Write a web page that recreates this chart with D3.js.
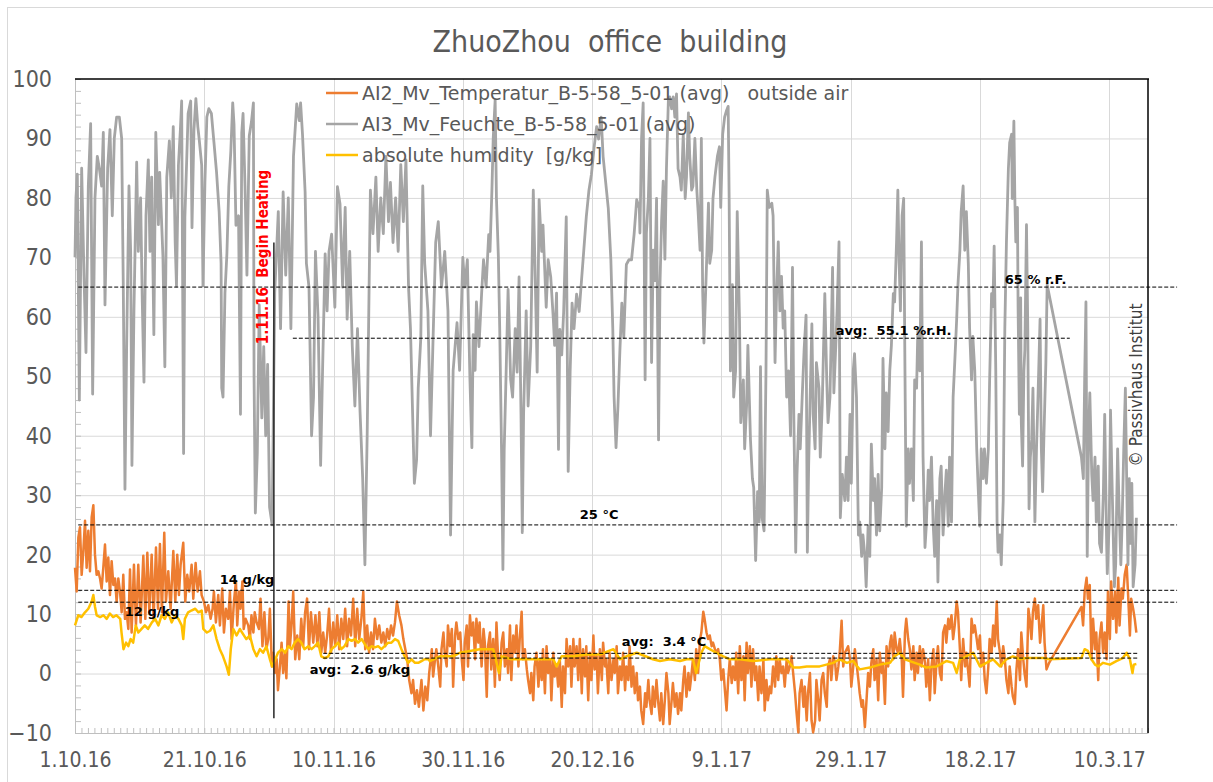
<!DOCTYPE html>
<html>
<head>
<meta charset="utf-8">
<script src="https://cdn.jsdelivr.net/npm/d3@7"></script>
<style>
  body { margin: 0; background: #fff; }
  svg { display: block; }
  svg text { white-space: pre; }
</style>
</head>
<body>
<div id="chart"></div>
<script>
// ---- data ----
const startDate = Date.UTC(2016, 9, 1);
const lastDay = 166;
const xTickDays = [0, 20, 40, 60, 80, 100, 120, 140, 160];
const xTickLabels = ['1.10.16', '21.10.16', '10.11.16', '30.11.16', '20.12.16', '9.1.17', '29.1.17', '18.2.17', '10.3.17'];
const yTicks = [-10, 0, 10, 20, 30, 40, 50, 60, 70, 80, 90, 100];

const seriesNames = [
  'AI2_Mv_Temperatur_B-5-58_5-01 (avg)   outside air',
  'AI3_Mv_Feuchte_B-5-58_5-01 (avg)',
  'absolute humidity  [g/kg]'
];

// outside air temperature [°C], [day since 1.10.16, value]
const tempSeries = [
  [0,17.8],[0.26,13.8],[0.52,22.9],[0.77,24.6],[1.03,16.6],[1.29,20.6],[1.55,25.7],[1.8,17.8],[2.06,24],[2.32,17.2],[2.58,26.3],[2.84,28.3],[3.09,20],[3.35,16.6],[3.61,17.2],[3.87,16],[4.12,14.3],[4.38,17.8],[4.64,21.7],[4.9,15.5],[5.15,19.5],[5.41,13.2],[5.67,18.9],[5.93,14.9],[6.19,16],[6.44,12.1],[6.7,16],[6.96,13.8],[7.22,10.3],[7.47,16.6],[7.73,9.2],[7.99,10.3],[8.25,7.5],[8.51,17.5],[8.76,6.9],[9.12,18.3],[9.43,8.1],[9.79,18.3],[10.15,8.6],[10.57,19.8],[10.88,9.2],[11.19,20.3],[11.5,10.3],[11.86,20],[12.16,9.2],[12.53,21.2],[12.84,10.9],[13.14,21.8],[13.45,10.3],[13.81,23.7],[14.07,12.1],[14.43,17.2],[14.79,10.9],[15.21,20.6],[15.52,12.1],[15.82,20],[16.08,13.2],[16.34,18.3],[16.75,22],[17.06,12.1],[17.37,16.6],[17.68,13.8],[18.04,18.3],[18.3,12.6],[18.66,18.6],[18.97,13.8],[19.33,17.2],[19.59,13.2],[19.95,12.1],[20.26,10.3],[20.62,11.5],[20.98,9.2],[21.29,10.9],[21.49,13.8],[21.8,8.6],[22.16,13.2],[22.42,8.1],[22.78,14.3],[23.04,6.9],[23.35,10.9],[23.71,9.2],[23.97,13.8],[24.23,5.8],[24.59,12.1],[24.9,15.5],[25.1,8.1],[25.4,13.8],[25.6,10.9],[25.9,15.5],[26.1,7.5],[26.4,9.2],[26.8,8.1],[27.06,5.8],[27.3,9.8],[27.6,6.9],[27.8,10.3],[28.1,8.6],[28.45,7.5],[28.7,12.6],[29,4.6],[29.3,10.3],[29.6,4.1],[29.9,5.8],[30.15,10.9],[30.46,1.2],[30.67,3.5],[30.93,0.1],[31.2,2.4],[31.4,-2.8],[31.7,1.2],[31.96,5.2],[32.2,0.1],[32.5,3.5],[32.7,-0.8],[33.04,12.1],[33.25,4.6],[33.5,8.1],[33.76,13.8],[34.07,2.4],[34.38,6.4],[34.7,2.4],[35,9.2],[35.3,4.6],[35.6,10.3],[35.9,12.6],[36.2,4.1],[36.5,10.3],[36.86,5.2],[37.2,9.8],[37.5,4.6],[37.8,10.3],[38.1,3.5],[38.4,6.9],[38.7,3.5],[39,6.4],[39.3,10.9],[39.6,3.5],[39.95,8.6],[40.26,4.6],[40.57,9.8],[40.88,4.1],[41.2,9.2],[41.5,5.8],[41.8,10.9],[42.1,4.6],[42.4,9.2],[42.7,6.4],[43.04,12.6],[43.35,4.6],[43.66,10.9],[43.97,5.8],[44.3,9.2],[44.6,13.8],[44.9,4.1],[45.2,8.1],[45.5,3.5],[45.8,6.9],[46.1,4.1],[46.4,9.2],[46.75,5.8],[47.06,8.1],[47.4,5.2],[47.7,6.9],[48,4.6],[48.3,7.5],[48.6,5.8],[48.9,8.1],[49.2,6.4],[49.5,8.6],[49.8,12.1],[50.15,9.8],[50.5,8.1],[50.8,5.8],[51.1,4.1],[51.4,2.4],[51.7,-1.1],[52.06,-3.3],[52.3,-1.1],[52.6,-5.1],[52.9,-2.8],[53.2,-5.6],[53.6,-1.1],[53.9,-6.2],[54.2,-2.2],[54.5,-4.5],[54.8,0.1],
  [55.2,4.1],[55.4,-0.5],[55.7,2.4],[55.9,4.1],[56.2,1.2],[56.5,-2.2],[56.7,4.1],[57,6.9],[57.2,3.5],[57.5,1.2],[57.7,8.1],[58,4.6],[58.3,7.5],[58.5,-2.2],[58.8,6.4],[59,8.6],[59.3,5.8],[59.6,6.9],[59.8,2.9],[60.1,-1.1],[60.3,5.2],[60.6,8.1],[60.8,1.2],[61.1,9.8],[61.35,6.4],[61.6,8.6],[61.9,2.4],[62.1,9.2],[62.4,5.2],[62.6,8.6],[62.9,1.2],[63.2,7.5],[63.4,5.2],[63.7,-3.9],[63.9,4.6],[64.2,6.9],[64.4,0.7],[64.7,5.8],[64.96,-2.2],[65.2,8.6],[65.5,1.8],[65.7,-1.1],[66,5.2],[66.25,6.9],[66.5,1.2],[66.8,4.1],[67,0.1],[67.3,8.1],[67.5,-1.1],[67.8,6.4],[68.05,3.5],[68.3,8.1],[68.6,1.2],[68.8,5.8],[69.1,10.4],[69.3,2.4],[69.6,4.1],[69.9,0.7],[70.1,-1.1],[70.4,-3.3],[70.6,0.1],[70.9,-4.5],[71.1,1.2],[71.4,3.5],[71.7,-2.2],[71.9,2.4],[72.2,-1.1],[72.4,4.1],[72.7,-3.3],[72.95,4.6],[73.2,0.1],[73.5,2.4],[73.7,-4.5],[74,3.5],[74.2,-0.5],[74.5,1.2],[74.75,-2.2],[75,2.4],[75.3,-5.6],[75.5,1.2],[75.8,-3.3],[76.05,5.8],[76.3,1.2],[76.6,4.6],[76.8,-2.2],[77.1,5.8],[77.3,1.2],[77.6,4.6],[77.85,-1.1],[78.1,5.8],[78.4,-3.3],[78.6,4.1],[78.9,-0.5],[79.1,4.6],[79.4,-4.5],[79.65,3.5],[79.9,-1.1],[80.2,6.4],[80.4,0.7],[80.7,2.9],[80.9,-3.3],[81.2,4.1],[81.5,-1.1],[81.7,5.2],[82,1.2],[82.2,2.4],[82.5,-3.3],[82.7,3.5],[83,-1.1],[83.3,2.4],[83.5,0.1],[83.8,4.6],[84,-3.3],[84.3,1.2],[84.55,-1.1],[84.8,3.5],[85.1,-2.8],[85.3,1.2],[85.6,-1.1],[85.8,4.6],[86.1,-2.2],[86.35,1.2],[86.6,-3.3],[86.9,0.1],[87.1,-4.5],[87.4,-2.2],[87.6,-6.2],[87.9,-8.5],[88.2,-3.3],[88.4,-5.6],[88.7,-1.1],[88.9,-4.5],[89.2,-6.8],[89.4,-2.2],[89.7,-5.6],[89.96,-1.1],[90.2,-4.5],[90.5,-7.9],[90.7,-3.3],[91,-8.5],[91.25,-4.5],[91.5,0.1],[91.8,-3.3],[92,-8.5],[92.3,-4.5],[92.5,-1.6],[92.8,-5.6],[93.05,-3.3],[93.3,-6.8],[93.6,-3.3],[93.8,-6.2],[94.1,-1.1],[94.3,1.2],[94.6,-3.9],[94.9,0.1],[95.1,-2.8],[95.4,0.1],[95.6,2.4],[95.9,-1.1],[96.1,4.1],[96.4,0.1],[96.7,5.8],[96.9,6.9],[97.2,10.4],[97.4,9.2],[97.7,6.9],[97.95,5.8],[98.2,6.4],[98.5,4.6],[98.7,5.2],[99,4.1],[99.2,3.5],[99.5,4.1],[99.75,2.4],[100,-1.1],[100.3,0.7],[100.5,-2.2],[100.8,-6.2],[101.05,-1.1],[101.3,2.4],[101.6,-1.6],[101.8,1.2],[102.1,-1.1],[102.3,3.5],[102.6,-3.3],[102.85,4.6],[103.1,-1.1],[103.4,2.9],[103.6,-4.5],[103.9,5.2],[104.1,0.1],[104.4,4.6],[104.65,-2.2],[104.9,4.1],[105.2,-1.1],[105.4,1.2],[105.7,-4.5],[105.9,1.2],[106.2,-3.3],[106.5,2.4],[106.7,-6.2],[106.97,-1.1],[107.2,-4.5],[107.5,-2.2],[107.7,-3.3],[108,1.2],[108.3,-2.2],[108.5,2.9],[108.8,-1.1],[109,2.4],[109.3,0.1],[109.55,1.2],[109.8,-2.2],[110.1,2.4],[110.3,0.1],
  [110.6,1.2],[110.85,2.9],[111.1,0.1],[111.4,-3.3],[111.6,-6.2],[111.9,-9.9],[112.1,-3.3],[112.4,-1.1],[112.7,-5.6],[112.9,-2.2],[113.2,-7.9],[113.4,-3.3],[113.7,0.1],[113.95,-7.9],[114.2,-9.9],[114.5,-7.9],[114.7,-1.1],[114.98,-4.5],[115.2,-7.9],[115.5,-1.1],[115.75,0.1],[116,-3.3],[116.3,-5.6],[116.5,1.2],[116.8,2.4],[117,-1.1],[117.3,2.9],[117.6,1.8],[117.8,-1.1],[118.1,1.2],[118.3,3.5],[118.6,8.9],[118.85,1.2],[119.1,3.5],[119.4,4.1],[119.6,4.6],[119.9,2.4],[120.1,-2.2],[120.4,1.2],[120.65,4.1],[120.9,1.8],[121.2,-1.1],[121.4,-3.3],[121.7,-5.6],[121.9,-4.5],[122.2,-9],[122.45,-4.5],[122.7,0.1],[122.97,-2.2],[123.2,1.8],[123.5,4.1],[123.7,-1.1],[124,2.4],[124.26,-4.5],[124.5,3.5],[124.8,0.1],[125,1.8],[125.3,-5.1],[125.55,4.6],[125.8,1.2],[126.1,5.2],[126.3,6.4],[126.6,2.4],[126.8,6.9],[127.1,4.1],[127.35,3.5],[127.6,5.8],[127.9,2.4],[128.1,-3.9],[128.4,6.9],[128.6,9.2],[128.9,5.8],[129.15,4.1],[129.4,0.7],[129.7,4.6],[129.9,-1.1],[130.2,3.5],[130.4,0.1],[130.7,4.6],[130.95,1.2],[131.2,4.1],[131.5,1.8],[131.7,-2.2],[131.99,2.4],[132.25,-4.5],[132.5,1.2],[132.8,4.1],[133,-3.3],[133.3,2.4],[133.5,4.6],[133.8,0.1],[134.05,-1.1],[134.3,6.9],[134.6,8.1],[134.8,5.2],[135.1,9.2],[135.3,7.5],[135.6,9.8],[135.85,5.8],[136.1,8.1],[136.4,12.1],[136.6,10.4],[136.9,4.1],[137.1,-1.1],[137.4,5.8],[137.7,1.2],[137.9,3.5],[138.2,0.1],[138.4,-2.2],[138.7,9.2],[138.95,6.9],[139.2,8.1],[139.5,5.8],[139.7,4.1],[140,6.4],[140.2,1.2],[140.5,3.5],[140.75,-1.1],[141,-3.3],[141.3,1.2],[141.5,5.8],[141.8,3.5],[142.05,8.1],[142.3,4.6],[142.6,12.1],[142.8,5.8],[143.1,3.5],[143.3,1.2],[143.6,4.6],[143.85,2.4],[144.1,-1.1],[144.4,-3.3],[144.6,1.2],[144.9,-2.2],[145.1,-3.9],[145.4,-5.1],[145.65,0.7],[145.9,4.1],[146.2,-1.1],[146.4,6.9],[146.7,2.4],[146.9,0.1],[147.2,-2.2],[147.5,10.9],[147.7,9.2],[147.97,5.8],[148.2,10.4],[148.5,12.6],[148.7,9.2],[149,11.5],[149.3,5.2],[149.5,7.5],[149.8,11.5],[150,5.2],[150.3,0.7],[150.7,1.8],
  [155.7,11.2],[155.96,8.1],[156.2,13.8],[156.5,16.1],[156.7,12.6],[156.99,14.9],[157.25,2.4],[157.5,9.2],[157.8,4.1],[158,6.9],[158.3,-1.1],[158.5,5.8],[158.8,8.6],[159.05,3.5],[159.3,6.9],[159.6,2.4],[159.8,13.8],[160.1,5.8],[160.3,15.5],[160.6,9.2],[160.9,13.8],[161.1,6.9],[161.4,16.1],[161.6,8.1],[161.9,14.3],[162.1,12.6],[162.4,16.6],[162.7,18.3],[162.9,13.8],[163.2,6.4],[163.4,12.6],[163.7,10.9],[163.95,9.2],[164.2,6.9]
];

// relative humidity [%], [day since 1.10.16, value]
const rhSeries = [
  [0,70],[0.15,80],[0.36,84],[0.67,46],[1.03,85],[1.39,67],[1.7,54],[2.06,82],[2.42,92.5],[2.73,47],[3.09,80],[3.45,87],[3.76,85],[4.12,82],[4.38,91],[4.64,62],[5.05,85],[5.41,91.5],[5.77,77],[6.08,90],[6.44,93.6],[6.86,93.6],[7.22,90],[7.47,65],[7.73,31],[7.99,55],[8.35,82],[8.61,71],[8.81,35],[9.12,61],[9.54,86],[9.79,71],[10.15,80],[10.41,62.5],[10.67,49],[10.98,77],[11.34,86.4],[11.6,71],[11.86,83.5],[12.2,57],[12.5,91],[12.9,75.5],[13.1,84.3],[13.6,70.3],[13.9,51.6],[14.2,83.5],[14.6,89.6],[14.9,80],[15.2,92],[15.5,72.5],[15.7,65.2],[16,85.5],[16.3,91.4],[16.5,96.3],[16.8,37],[17,76.8],[17.3,87],[17.5,94.2],[17.9,96.3],[18.1,75],[18.4,91.4],[18.7,96.7],[19,92],[19.2,90],[19.6,85.5],[19.8,65.2],[20.1,82.6],[20.4,93.6],[20.7,95],[21.1,94.2],[21.5,89.3],[21.9,84.3],[22.3,77.7],[22.6,69],[22.7,48],[22.9,46.5],[23.2,64],[23.5,70.6],[23.8,82],[24.1,87.7],[24.4,96],[24.6,92.4],[24.9,75.4],[25.3,77],[25.6,43.6],[25.8,91],[26,94.2],[26.3,82],[26.6,67],[26.96,90.4],[27.3,92.8],[27.6,96],[27.7,50],[27.9,27],[28.2,37],[28.5,62],[28.9,43],[29.2,55],[29.5,40],[29.8,52],[30.1,28],[30.5,25],
  [30.9,64],[31.45,77.7],[31.8,58],[32.2,81],[32.6,67],[33,80],[33.4,58],[33.8,87],[34.3,95.8],[34.7,93],[34.9,96],[35.2,90.6],[35.6,81],[35.8,69],[36.2,65],[36.6,40],[36.9,46.5],[37.2,71],[37.6,60],[38,35],[38.3,51],[38.7,70.6],[39,61],[39.3,71],[39.7,73.9],[40.2,61.6],[40.6,81.9],[41,79],[41.4,65],[41.8,78.4],[42.1,59.6],[42.5,71],[42.9,55],[43.3,45],[43.7,58],[44.1,44],[44.5,33],[44.85,18.3],[45.2,40],[45.5,65],[45.7,81.3],[46.1,74],[46.55,83.5],[46.9,71],[47.3,80],[47.7,74],[48.1,87],[48.5,76],[48.8,82.6],[49.2,72.5],[49.6,80],[50,71],[50.4,85.6],[50.8,76],[51.2,86.4],[51.6,65],[51.9,58],[52.2,45],[52.5,32],[52.85,36],[53.1,48],[53.5,56.5],[53.8,82],[54.1,69],[54.6,61],[55,40],[55.4,56.5],[55.8,72.5],[56.2,76],[56.7,65],[57.2,71],[57.7,61],
  [58.1,23.3],[58.5,51],[58.8,55],[59.1,59],[59.5,51],[60,70],[60.3,65],[60.7,69.6],[61.1,49.4],[61.4,38],[61.6,57],[61.9,51],[62.1,62.5],[62.5,55],[62.9,63.8],[63.2,69.6],[63.6,65],[64,73.8],[64.2,71],[64.5,81.3],[64.7,90],[65,96.5],[65.2,80],[65.5,70],[65.7,58.4],[66,36.8],[66.2,17.5],[66.4,37.7],[66.7,50.7],[67,64.6],[67.4,49.4],[67.7,46.5],[68.1,58],[68.4,50.7],[68.7,66.7],[69,43.6],[69.2,23.7],[69.4,43.6],[69.8,61],[70.1,45],[70.5,55],[70.9,81.3],[71.2,66.7],[71.5,50.7],[71.8,79.7],[72.2,71],[72.4,75.4],[72.9,61.6],[73.2,69.6],[73.6,66.7],[74,59.6],[74.2,55.2],[74.5,64],[74.8,37.7],[75,57.9],[75.3,53.6],[75.6,60.9],[76,76.8],[76.3,34],[76.6,50.7],[76.9,62.3],[77.2,58],[77.6,63.8],[78,60.9],[78.4,66.7],[78.7,71],[79.1,76.8],[79.5,81.2],[79.9,84],[80.3,88.4],[80.7,92],[81,89.9],[81.4,93.6],[81.7,87],[82.1,82.6],[82.5,78.3],[82.9,69.6],[83.2,58],[83.4,46.5],[83.7,38],[84,45],[84.3,54.4],[84.6,62.3],[84.9,56.5],[85.3,68.8],[85.7,69.6],[86.1,69.6],[86.5,73.9],[86.9,79.7],[87.3,78.3],
  [87.4,74.1],[87.65,90],[87.9,96],[88.2,49.4],[88.4,74.1],[88.7,79.9],[88.95,90],[89.2,52.3],[89.46,71.2],[89.7,66.1],[89.97,79.9],[90.28,39.3],[90.5,65.4],[90.75,76.2],[91,82.8],[91.26,69.7],[91.5,84.9],[91.8,96.5],[92,97],[92.3,95],[92.55,97],[92.8,93.6],[93.06,97.5],[93.3,84.9],[93.6,83.5],[93.8,81.3],[94.1,90.7],[94.4,79.9],[94.6,83.5],[94.9,94.3],[95.1,87.1],[95.4,81.3],[95.6,82],[95.9,90],[96.2,81.3],[96.4,77.7],[96.7,71.2],[96.9,90],[97.1,64.6],[97.3,55.6],[97.6,65.4],[98,79.1],[98.2,69],[98.5,71.2],[98.7,79.9],[99,83.5],[99.4,87.1],[99.7,88.6],[99.9,78.4],[100.2,90.7],[100.5,93.6],[100.8,94.7],[101.05,95.4],[101.2,79.9],[101.4,50.9],[101.7,65.4],[101.9,46.5],[102.2,50.9],[102.45,77.7],[102.8,59.6],[103,42.2],[103.4,49.4],[103.6,37.8],[103.9,45.1],[104.1,55.2],[104.5,39.3],[104.8,32.8],[105,31.3],[105.3,19],[105.6,30.6],[105.85,25.5],[106.05,51.6],[106.3,26.2],[106.6,24],[106.9,50.9],[107.1,81.3],[107.4,78.4],[107.8,79.1],[108,77],[108.3,52.3],[108.5,62.5],[108.8,72.6],[109.05,61],[109.3,66.8],[109.56,58.1],[109.8,61],[110.1,46.5],[110.4,50.9],[110.7,40],[111,68.3],[111.2,43.6],[111.5,20.4],[111.7,33.5],[112,43.6],[112.2,37.8],[112.5,46.5],[112.8,54.5],[113.1,60.3],[113.3,20.4],[113.5,34.9],[113.7,45.1],[114,58.8],[114.2,43.6],[114.5,37.8],[114.7,52.3],[115.1,48],[115.3,36.4],[115.6,45.1],[116,63.9],[116.3,49.4],[116.5,42.2],[116.8,46.5],
  [117.2,68.3],[117.4,47.2],[117.7,55.2],[117.9,61],[118.2,72.6],[118.4,26.2],[118.7,33.5],[119.1,29.1],[119.35,36.4],[119.6,29.1],[119.9,43.6],[120.1,32],[120.4,50.9],[120.6,53.8],[120.9,46.5],[121.2,23.3],[121.4,25.5],[121.7,19.7],[121.9,23.3],[122.2,19.7],[122.4,14.6],[122.7,24.8],[122.96,19.7],[123.2,38.6],[123.5,29.1],[123.7,32.8],[124,23.3],[124.25,33.5],[124.5,24],[124.8,31.3],[125,53],[125.3,37.8],[125.5,47.2],[125.8,40.7],[126.05,50.9],[126.3,55.2],[126.6,63.9],[126.8,62.5],[127.1,72.6],[127.3,81.3],[127.5,69],[127.7,61],[127.96,77],[128.2,79.9],[128.4,50.9],[128.6,24.8],[128.9,37.8],[129.1,32],[129.4,37.8],[129.7,29.1],[129.9,49.4],[130.2,48],[130.4,58.1],[130.7,50.9],[130.95,72.6],[131.2,36.4],[131.5,21.2],[131.7,24.8],[132,34.2],[132.2,29.1],[132.5,36.4],[132.75,25.5],[133,19.7],[133.3,29.1],[133.5,15.4],[133.8,32.8],[134,34.9],[134.3,23.3],[134.6,30.6],[134.8,34.2],[135.1,24.8],[135.3,36.4],[135.6,25.5],[135.85,46.5],[136.1,52.3],[136.4,59.6],[136.6,65.4],[136.9,71.2],[137.1,77.7],[137.4,82],[137.65,71.2],[137.9,77.7],[138.2,69],[138.4,58.1],[138.7,49.4],[138.9,56.7],[139.2,50.9],[139.5,37.8],[139.7,32],[139.97,24.8],[140.2,37.8],[140.5,32.8],[140.7,37.8],[141,32],[141.3,37.8],[141.5,49.4],[141.8,63.9],[142,61.7],[142.2,71.9],[142.45,50.9],[142.65,25.5],[142.8,20.4],[143.1,23.3],[143.3,18.3],[143.6,29.1],
  [143.85,58.1],[144.1,72.6],[144.4,84.9],[144.6,89.3],[144.9,90.7],[145,79.9],[145.25,92.9],[145.4,79.9],[145.55,72.6],[145.8,78.4],[145.9,61.7],[146.1,43.6],[146.3,63.2],[146.4,42.2],[146.6,34.9],[146.8,50.9],[146.95,54.5],[147.2,75.5],[147.4,58.1],[147.6,27.7],[147.8,36.4],[148,39.3],[148.2,48],[148.5,25.5],[148.75,37.8],[149,47.2],[149.3,59.6],[149.5,37.8],[149.7,30.6],[149.9,40],[150.2,52.3],[150.4,65.4],
  [155.7,36.4],[156,32.8],[156.2,49.4],[156.4,62.5],[156.6,19.7],[156.8,40],[157,47.2],[157.3,33.5],[157.5,29.1],[157.8,36.4],[158,25.5],[158.3,34.9],[158.5,21.9],[158.8,20.4],[159.1,30.6],[159.3,43.6],[159.6,21.9],[159.7,16.8],[160,25.5],[160.2,44.3],[160.5,29.1],[160.8,14.6],[161,18.3],[161.3,37.8],[161.5,29.1],[161.8,18.3],[162,25.5],[162.25,37.8],[162.5,48],[162.7,32.8],[162.9,18.3],[163.1,32.8],[163.3,21.9],[163.5,32],[163.7,14.6],[164,18.3],[164.2,26.2]
];

// absolute humidity [g/kg], [day since 1.10.16, value]
const absHumSeries = [
  [0,8.1],[0.5,9.8],[1,9.5],[1.55,10.3],[2.06,10.9],[2.58,12.1],[2.84,13.2],[3.1,11.2],[3.35,9.8],[3.9,9.5],[4.4,9.8],[4.9,9.2],[5.4,10.1],[5.9,9.5],[6.4,9.8],[7,9.2],[7.2,6.9],[7.5,4.1],[7.9,5.2],[8.25,4.6],[8.6,5.8],[9,5.2],[9.4,8.1],[9.8,6.9],[10.3,7.5],[10.8,8.1],[11.3,7.5],[11.9,8.6],[12.4,9.2],[12.9,8.1],[13.4,9.8],[13.9,9.2],[14.4,10.3],[14.95,8.6],[15.5,9.8],[16,9.2],[16.5,8.1],[16.75,5.8],[17,9.2],[17.5,10.3],[18,10.6],[18.6,10.9],[19.1,10.3],[19.6,10.6],[19.85,7.5],[20.4,6.9],[20.9,7.2],[21.4,8.1],[21.9,5.8],[22.4,4.1],[22.9,2.9],[23.45,1.2],[23.8,-0.2],[24.1,4.1],[24.5,7.5],[25,6.4],[25.5,7.5],[26.5,5.8],[27.06,6.4],[27.6,4.1],[28.1,2.9],[28.6,4.1],[29.1,3.5],[29.6,4.6],[30.15,2.4],[30.5,1.2],[31,2.4],[31.4,3.5],[32,4.1],[32.5,3.5],[33,4.6],[33.5,4.1],[34,5.2],[34.5,5.8],[35,5.2],[35.5,4.1],[36.1,4.6],[36.6,4.1],[37.1,4.6],[37.6,5.2],[38.1,2.9],[38.65,2.6],[39.2,2.9],[39.7,4.1],[40.2,4.6],[40.7,5.2],[41.2,4.1],[41.7,4.6],[42.3,5.8],[42.8,5.5],[43.3,5.8],[43.8,5.2],[44.35,5.8],[44.85,4.9],[45.4,4.1],[45.9,4.6],[46.4,4.4],[46.9,4.6],[47.4,4.1],[47.9,4.6],[48.45,5.2],[48.96,5.2],[49.5,5.8],[50,5.5],[50.5,4.1],[51,2.9],[51.55,1.8],[52.06,2.4],[52.6,1.8],[53.1,1.8],[53.6,2.1],[54.1,2.4],[54.65,2.4],
  [54.9,2.1],[56.45,2.9],[58.5,2.9],[59.55,3.5],[61.1,3.8],[62.6,4.1],[64.7,4.1],[65.6,0.1],[66,2.9],[67.5,2.4],[69.3,2.4],[71.9,2.4],[74,2.4],[74.5,1.2],[75.3,2.9],[77.1,2.9],[79.1,3.2],[81.2,3.2],[83.3,4.1],[84.3,2.4],[85.3,2.9],[86.9,3.5],[89.4,2.4],[90.5,2.1],[92,2.4],[93.6,2.1],[94.6,2.4],[95.6,2.4],[96.1,0.1],[96.9,3.5],[97.4,4.6],[98.2,4.1],[99.2,3.5],[100.3,2.9],[101.3,2.4],[102.85,2.4],[104.9,2.1],[107.5,2.4],[110.1,2.4],
  [111.1,1],[112.1,1],[113.2,1.2],[115.2,1.2],[117.3,1.8],[118.3,2.4],[119.4,1.8],[120.4,2.1],[121,1.2],[121.4,0.7],[122.97,1],[124.5,1.5],[126.1,1.8],[126.8,2.9],[127.6,3.5],[128.4,2.4],[129.15,2.1],[130.7,1.5],[131.7,1],[133.3,1.2],[134.8,2.1],[135.85,1.8],[136.4,0.1],[136.9,2.4],[137.9,2.9],[138.95,3.5],[140,1.2],[141,1.8],[142.05,2.4],[143.1,1.2],[144.1,2.4],[145.1,2.9],[146.2,2.4],[147.2,2.6],[148.2,2.6],[149.8,2.6],[150.7,2.4],
  [155.7,2.6],[156.2,4.1],[156.7,3.8],[157.25,2.4],[157.8,1.5],[158.3,1.2],[159.05,1.8],[160.1,1.5],[161.1,2.1],[162.1,2.6],[162.7,3.5],[163.2,2.4],[163.6,0.1],[163.8,1.5],[164.2,1.6]
];

// dashed reference lines: value, from day, to day
const refLines = [
  { value: 65, from: 0.5, to: 170.5 },
  { value: 56.4, from: 33.7, to: 153.9 },
  { value: 25, from: 0.5, to: 170.5 },
  { value: 14, from: 0.5, to: 170.5 },
  { value: 12, from: 0.5, to: 170.5 },
  { value: 3.4, from: 38.4, to: 164.4 },
  { value: 2.6, from: 38.4, to: 164.4 }
];

// labels: text, day, value (baseline)
const refLabels = [
  { text: '65 % r.F.', day: 143.85, value: 65.6 },
  { text: 'avg:  55.1 %r.H.', day: 117.7, value: 57 },
  { text: '25 °C', day: 78.1, value: 26 },
  { text: '14 g/kg', day: 22.4, value: 15 },
  { text: '12 g/kg', day: 7.7, value: 9.6 },
  { text: 'avg:  3.4 °C', day: 84.6, value: 4.6 },
  { text: 'avg:  2.6 g/kg', day: 36.3, value: 0 }
];

const heatingStart = { day: 31, from: -7.5, to: 72.5, text: '1.11.16  Begin Heating' };
const copyright = '© Passivhaus Institut';
const title = 'ZhuoZhou  office  building';

// ---- drawing ----
const W = 1213, H = 782;
const plot = { left: 75, right: 1148, top: 79, bottom: 733 };
const narrow = "'Liberation Sans Narrow', 'Arial Narrow', 'DejaVu Sans Condensed', sans-serif";
const verdana = "'DejaVu Sans', Verdana, sans-serif";
const colors = ['#ED7D31', '#A5A5A5', '#FFC000'];

const dayToDate = d => new Date(startDate + d * 86400000);

const svg = d3.select('#chart').append('svg')
  .attr('width', W).attr('height', H);

svg.append('rect').attr('width', W).attr('height', H).attr('fill', '#fff');
svg.append('rect')
  .attr('x', 7.5).attr('y', 7.5).attr('width', W).attr('height', H)
  .attr('fill', 'none').attr('stroke', '#d9d9d9');

const x = d3.scaleUtc()
  .domain([dayToDate(0), dayToDate(lastDay)])
  .range([plot.left, plot.right]);

const y = d3.scaleLinear()
  .domain([-10, 100])
  .range([plot.bottom, plot.top]);

// gridlines
svg.append('g')
  .selectAll('line')
  .data(yTicks.slice(1, -1))
  .join('line')
  .attr('x1', plot.left).attr('x2', plot.right)
  .attr('y1', d => y(d) + 0.5).attr('y2', d => y(d) + 0.5)
  .attr('stroke', '#d9d9d9');

svg.append('g')
  .selectAll('line')
  .data(xTickDays.slice(1))
  .join('line')
  .attr('x1', d => Math.round(x(dayToDate(d))) + 0.5)
  .attr('x2', d => Math.round(x(dayToDate(d))) + 0.5)
  .attr('y1', plot.top).attr('y2', plot.bottom)
  .attr('stroke', '#d9d9d9');

// axes
svg.append('g')
  .attr('transform', `translate(0,${plot.bottom})`)
  .call(d3.axisBottom(x)
    .tickValues(xTickDays.map(dayToDate))
    .tickFormat((d, i) => xTickLabels[i])
    .tickSize(0).tickPadding(19))
  .call(g => g.select('.domain').attr('stroke', '#bfbfbf'))
  .call(g => g.selectAll('.tick text')
    .attr('fill', '#595959').style('font-family', narrow).style('font-size', '21px'));

svg.append('g')
  .attr('transform', `translate(0,${plot.bottom})`)
  .call(d3.axisBottom(x)
    .tickValues(d3.range(0, lastDay + 1).map(dayToDate))
    .tickFormat('').tickSize(-5))
  .call(g => g.select('.domain').remove())
  .call(g => g.selectAll('.tick line').attr('stroke', '#bfbfbf'));

svg.append('g')
  .attr('transform', `translate(${plot.left},0)`)
  .call(d3.axisLeft(y).tickValues(yTicks).tickSize(0).tickPadding(23))
  .call(g => g.select('.domain').attr('stroke', '#bfbfbf'))
  .call(g => g.selectAll('.tick text')
    .attr('fill', '#595959').style('font-family', narrow).style('font-size', '23px'));

svg.append('g')
  .attr('transform', `translate(${plot.left},0)`)
  .call(d3.axisLeft(y).tickValues(d3.range(-10, 101, 2)).tickFormat('').tickSize(-6))
  .call(g => g.select('.domain').remove())
  .call(g => g.selectAll('.tick line').attr('stroke', '#bfbfbf'));

// top and right frame
svg.append('line')
  .attr('x1', plot.left).attr('x2', plot.right + 1)
  .attr('y1', y(100)).attr('y2', y(100))
  .attr('stroke', '#000').attr('stroke-width', 1.5);
svg.append('line')
  .attr('x1', plot.right).attr('x2', plot.right)
  .attr('y1', y(100)).attr('y2', y(-10))
  .attr('stroke', '#000').attr('stroke-width', 1.5);

// series
const line = d3.line()
  .x(d => x(dayToDate(d[0])))
  .y(d => y(d[1]));

[tempSeries, rhSeries, absHumSeries].forEach((s, i) => {
  svg.append('path')
    .datum(s)
    .attr('fill', 'none')
    .attr('stroke', colors[i])
    .attr('stroke-width', i === 1 ? 2.8 : 2.5)
    .attr('stroke-linejoin', 'round')
    .attr('d', line);
});

// reference lines
svg.append('g')
  .selectAll('line')
  .data(refLines)
  .join('line')
  .attr('x1', d => x(dayToDate(d.from)))
  .attr('x2', d => x(dayToDate(d.to)))
  .attr('y1', d => y(d.value)).attr('y2', d => y(d.value))
  .attr('stroke', '#000').attr('stroke-width', 1)
  .attr('stroke-dasharray', '4 2');

svg.append('g')
  .selectAll('text')
  .data(refLabels)
  .join('text')
  .attr('x', d => x(dayToDate(d.day)))
  .attr('y', d => y(d.value))
  .text(d => d.text)
  .attr('fill', '#000')
  .style('font-family', verdana)
  .style('font-weight', 'bold')
  .style('font-size', '13px');

// heating start marker
const hx = x(dayToDate(heatingStart.day)) - 1.5;
svg.append('line')
  .attr('x1', hx).attr('x2', hx)
  .attr('y1', y(heatingStart.to)).attr('y2', y(heatingStart.from))
  .attr('stroke', '#262626').attr('stroke-width', 1.5);
svg.append('text')
  .attr('transform', `translate(${hx - 6},257) rotate(-90)`)
  .attr('text-anchor', 'middle')
  .text(heatingStart.text)
  .attr('fill', '#ff0000')
  .style('font-family', narrow)
  .style('font-weight', 'bold')
  .style('font-size', '15px');

// copyright
svg.append('text')
  .attr('transform', `translate(1142,385) rotate(-90)`)
  .attr('text-anchor', 'middle')
  .text(copyright)
  .attr('fill', '#404040')
  .style('font-family', narrow)
  .style('font-size', '17px');

// legend
const legend = svg.append('g').attr('transform', 'translate(326,93)');
seriesNames.forEach((name, i) => {
  const row = legend.append('g').attr('transform', `translate(0,${i * 31})`);
  row.append('line')
    .attr('x1', 0).attr('x2', 32)
    .attr('stroke', colors[i]).attr('stroke-width', 2.5);
  row.append('text')
    .attr('x', 36).attr('y', 7)
    .text(name)
    .attr('fill', '#595959')
    .style('font-family', verdana)
    .style('font-size', '19px');
});

// title
svg.append('text')
  .attr('x', 610).attr('y', 52)
  .attr('text-anchor', 'middle')
  .text(title)
  .attr('fill', '#595959')
  .style('font-family', narrow)
  .style('font-size', '30px');
</script>
</body>
</html>
